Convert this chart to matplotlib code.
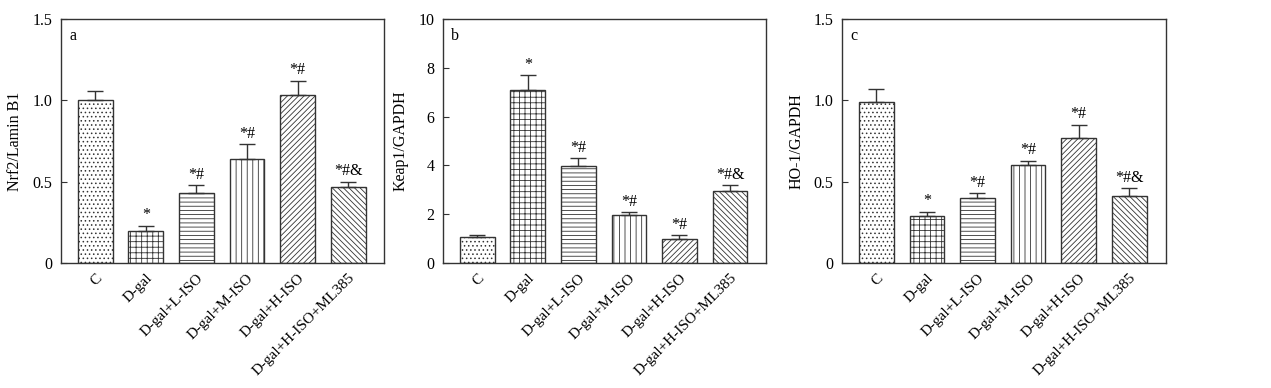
import numpy as np
import matplotlib
matplotlib.use("Agg")
import matplotlib.pyplot as plt

plt.rcParams['font.family'] = ['Liberation Serif', 'DejaVu Serif']
plt.rcParams['hatch.linewidth'] = 0.6

groups = ["C", "D-gal", "D-gal+L-ISO", "D-gal+M-ISO", "D-gal+H-ISO", "D-gal+H-ISO+ML385"]
hatches = ["....", "+++", "----", "|||", "//////", "\\\\\\\\\\\\"]

nrf2 = [1.00, 0.20, 0.43, 0.64, 1.03, 0.47]
nrf2_err = [0.06, 0.03, 0.05, 0.09, 0.09, 0.03]
keap1 = [1.05, 7.10, 3.97, 1.97, 1.00, 2.97]
keap1_err = [0.08, 0.60, 0.32, 0.12, 0.13, 0.22]
ho1 = [0.99, 0.29, 0.40, 0.60, 0.77, 0.41]
ho1_err = [0.08, 0.025, 0.03, 0.03, 0.08, 0.05]
marks = ["", "*", "*#", "*#", "*#", "*#&"]

panels = [
    ("a", "Nrf2/Lamin B1", nrf2, nrf2_err, [0, 0.5, 1.0, 1.5], ["0", "0.5", "1.0", "1.5"], 1.5),
    ("b", "Keap1/GAPDH", keap1, keap1_err, [0, 2, 4, 6, 8, 10], ["0", "2", "4", "6", "8", "10"], 10),
    ("c", "HO-1/GAPDH", ho1, ho1_err, [0, 0.5, 1.0, 1.5], ["0", "0.5", "1.0", "1.5"], 1.5),
]
lefts = [0.048, 0.3485, 0.6625]

fig = plt.figure(figsize=(12.71, 3.88), dpi=100)
x = np.arange(len(groups))
edge = "#333333"
for (tag, ylab, vals, errs, yt, ytl, ymax), left in zip(panels, lefts):
    ax = fig.add_axes([left, 0.322, 0.2545, 0.629])
    bars = ax.bar(x, vals, width=0.69, color="white", edgecolor=edge, linewidth=1.0,
                  hatch=hatches, zorder=2)
    ax.errorbar(x, vals, yerr=[np.zeros(len(errs)), errs], fmt="none", ecolor=edge,
                elinewidth=1.0, capsize=6, capthick=1.0, zorder=3)
    for xi, v, e, m in zip(x, vals, errs, marks):
        if m:
            ax.text(xi, v + e + ymax * 0.01, m, ha="center", va="bottom", fontsize=11.5)
    ax.set_xlim(-0.68, 5.72)
    ax.set_ylim(0, ymax)
    ax.set_yticks(yt)
    ax.set_yticklabels(ytl, fontsize=11.5)
    ax.set_xticks(x)
    ax.set_xticklabels(groups, rotation=45, ha="right", rotation_mode="anchor", fontsize=11)
    ax.tick_params(axis="both", direction="in", length=4, color=edge, width=0.8, pad=6)
    ax.set_ylabel(ylab, fontsize=11.5, labelpad=7)
    ax.text(0.025, 0.965, tag, transform=ax.transAxes, ha="left", va="top", fontsize=11.5)
    for s in ax.spines.values():
        s.set_color(edge)
        s.set_linewidth(1.0)

fig.savefig("out.png", dpi=100)
